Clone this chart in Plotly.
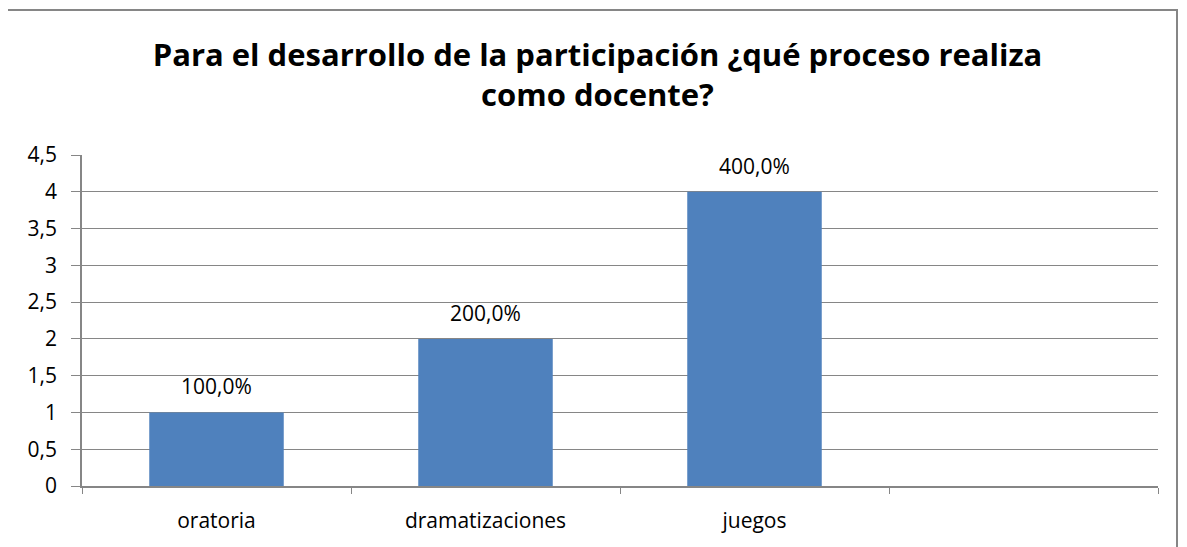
import plotly.graph_objects as go

categories = ["oratoria", "dramatizaciones", "juegos", " "]
bar_categories = ["oratoria", "dramatizaciones", "juegos"]
values = [1, 2, 4]
y_ticks = [0, 0.5, 1, 1.5, 2, 2.5, 3, 3.5, 4, 4.5]

labels = [f"{v * 100:.1f}%".replace(".", ",") for v in values]

FONT = "Open Sans"
GRAY = "#868686"

fig = go.Figure()
fig.add_trace(go.Bar(
    x=bar_categories,
    y=values,
    marker=dict(color="#4F81BD", line=dict(width=0)),
    width=0.5,
))

# data labels sit a bit higher above the bars than plotly's default
for cat, v, lab in zip(bar_categories, values, labels):
    fig.add_annotation(
        x=cat, y=v, text=lab, showarrow=False,
        yanchor="bottom", yshift=10,
        font=dict(size=21, color="black", family=FONT),
    )

# the page body has an 8px margin, so the figure is 8px smaller
fig.update_layout(
    width=1179,
    height=539,
    margin=dict(l=74, r=29, t=147, b=61),
    paper_bgcolor="white",
    plot_bgcolor="white",
    separators=",.",
    showlegend=False,
    font=dict(family=FONT, color="black", size=21),
    title=dict(
        text="Para el desarrollo de la participación ¿qué proceso realiza<br>como docente?",
        x=0.5, xanchor="center",
        y=1 - 58 / 539, yanchor="top", yref="container",
        font=dict(family=FONT, size=31, color="black", weight="bold"),
    ),
    xaxis=dict(
        type="category",
        categoryorder="array",
        categoryarray=categories,
        range=[-0.5, 3.5],
        tickson="boundaries",
        ticks="outside",
        ticklen=6,
        tickcolor=GRAY,
        showline=True,
        linecolor=GRAY,
        linewidth=1.5,
        showgrid=False,
        tickfont=dict(size=21),
        ticklabelstandoff=15,
    ),
    yaxis=dict(
        range=[0, 4.5],
        tickvals=y_ticks,
        ticks="outside",
        ticklen=9,
        tickcolor=GRAY,
        showline=True,
        linecolor=GRAY,
        linewidth=1.5,
        showgrid=True,
        gridcolor=GRAY,
        gridwidth=1,
        zeroline=False,
        tickfont=dict(size=21),
        ticklabelstandoff=10,
    ),
)

# outer chart border
fig.add_shape(
    type="rect", xref="paper", yref="paper",
    x0=(7 - 82) / 1076, x1=(1177 - 82) / 1076,
    y0=(486 - 560) / 331, y1=(486 - 10) / 331,
    line=dict(color=GRAY, width=2),
    fillcolor="rgba(0,0,0,0)",
    layer="below",
)

fig.write_html("out.html")
